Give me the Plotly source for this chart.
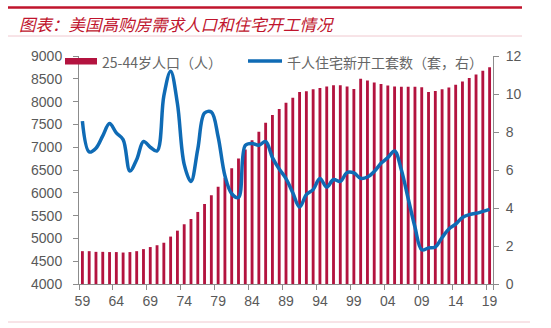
import plotly.graph_objects as go

# Two-digit year labels, 1959-2019
years = ["59", "60", "61", "62", "63", "64", "65", "66", "67", "68",
         "69", "70", "71", "72", "73", "74", "75", "76", "77", "78",
         "79", "80", "81", "82", "83", "84", "85", "86", "87", "88",
         "89", "90", "91", "92", "93", "94", "95", "96", "97", "98",
         "99", "00", "01", "02", "03", "04", "05", "06", "07", "08",
         "09", "10", "11", "12", "13", "14", "15", "16", "17", "18", "19"]

# 25-44 year-old population (left axis)
pop_25_44 = [4720, 4720, 4705, 4705, 4700, 4700, 4690, 4700, 4720, 4765,
             4810, 4850, 4905, 5040, 5170, 5310, 5425, 5580, 5755, 5945,
             6135, 6330, 6540, 6750, 6950, 7150, 7340, 7535, 7705, 7840,
             7975, 8085, 8210, 8225, 8270, 8300, 8330, 8360, 8360, 8330,
             8275, 8500, 8460, 8420, 8385, 8355, 8330, 8325, 8325, 8325,
             8315, 8210, 8230, 8270, 8310, 8370, 8440, 8515, 8595, 8675, 8755]

# Housing starts per thousand people (right axis)
starts_per_1000 = [8.57, 6.95, 7.15, 7.80, 8.45, 7.95, 7.60, 5.95, 6.55, 7.50,
                   7.20, 7.00, 9.90, 11.20, 9.50, 6.30, 5.40, 7.10, 9.00, 9.05,
                   7.75, 5.70, 4.75, 4.55, 7.30, 7.40, 7.30, 7.50, 6.65, 6.05,
                   5.55, 4.80, 4.05, 4.70, 4.97, 5.55, 5.10, 5.50, 5.40, 5.87,
                   5.85, 5.56, 5.63, 5.92, 6.35, 6.65, 7.00, 6.00, 4.50, 3.00,
                   1.80, 1.90, 1.95, 2.45, 2.90, 3.15, 3.50, 3.65, 3.72, 3.82, 3.93]

tick_labels = ["59", "64", "69", "74", "79", "84", "89", "94", "99", "04", "09", "14", "19"]

title_text = "图表：美国高购房需求人口和住宅开工情况"
bar_name = "25-44岁人口（人）"
line_name = "千人住宅新开工套数（套，右）"

W, H = 551, 328
L, R, T, B = 79, 58, 56, 44
PW, PH = W - L - R, H - T - B


def px(x):
    return (x - L) / PW


def py(y):
    return (H - B - y) / PH


RED = "#B3133F"
TITLE_RED = "#C0142D"
BLUE = "#0F6BB5"
GREY = "#595959"
AXIS = "#8C8C8C"
CJK = "Noto Sans CJK SC"

fig = go.Figure()
fig.add_trace(go.Bar(x=years, y=pop_25_44, marker_color=RED, marker_line_width=0,
                     width=0.42, name=bar_name))
fig.add_trace(go.Scatter(x=years, y=starts_per_1000, yaxis="y2", mode="lines",
                         name=line_name,
                         line=dict(color=BLUE, width=3.5, shape="spline", smoothing=1)))

axis_common = dict(showline=True, linecolor=AXIS, linewidth=1, ticks="outside",
                   ticklen=5, tickcolor=AXIS, showgrid=False, zeroline=False,
                   tickangle=0,
                   tickfont=dict(family="Liberation Sans, Arial, sans-serif", size=14, color=GREY))

fig.update_layout(
    width=W, height=H,
    margin=dict(l=L, r=R, t=T, b=B, autoexpand=False),
    paper_bgcolor="white", plot_bgcolor="white", showlegend=False,
    xaxis=dict(type="category", range=[-0.5, 60.5], tickmode="array",
               tickvals=tick_labels, ticktext=tick_labels, tickson="boundaries",
               ticklabelstandoff=4, **axis_common),
    yaxis=dict(range=[4000, 9000], tickmode="linear", tick0=4000, dtick=500,
               ticklabelstandoff=8, **axis_common),
    yaxis2=dict(overlaying="y", side="right", range=[0, 12], tickmode="linear",
                tick0=0, dtick=2, ticklabelstandoff=4, **axis_common),
)

shapes = [
    # header rule, title underline, footer rule
    dict(type="line", xref="paper", yref="paper", x0=px(8), x1=px(522), y0=py(7.5), y1=py(7.5),
         line=dict(color=TITLE_RED, width=2.5)),
    dict(type="line", xref="paper", yref="paper", x0=px(8), x1=px(522), y0=py(36), y1=py(36),
         line=dict(color="#F0C8CF", width=1)),
    dict(type="line", xref="paper", yref="paper", x0=px(8), x1=px(530), y0=py(322), y1=py(322),
         line=dict(color="#F0C8CF", width=1)),
    # legend swatches
    dict(type="rect", xref="paper", yref="paper", x0=px(65), x1=px(97), y0=py(64.5), y1=py(58),
         fillcolor=RED, line=dict(width=0)),
    dict(type="line", xref="paper", yref="paper", x0=px(248), x1=px(282), y0=py(61), y1=py(61),
         line=dict(color=BLUE, width=3.5)),
]

annotations = [
    dict(text=title_text, xref="paper", yref="paper", x=px(17), y=py(24),
         xanchor="left", yanchor="middle", showarrow=False,
         font=dict(family=CJK, size=16.5, color=TITLE_RED, style="italic")),
    dict(text=bar_name, xref="paper", yref="paper", x=px(100), y=py(61.5),
         xanchor="left", yanchor="middle", showarrow=False,
         font=dict(family=CJK, size=14, color="#666666")),
    dict(text=line_name, xref="paper", yref="paper", x=px(285), y=py(61.5),
         xanchor="left", yanchor="middle", showarrow=False,
         font=dict(family=CJK, size=14, color="#666666")),
]

fig.update_layout(shapes=shapes, annotations=annotations)

fig.write_html("out.html")
